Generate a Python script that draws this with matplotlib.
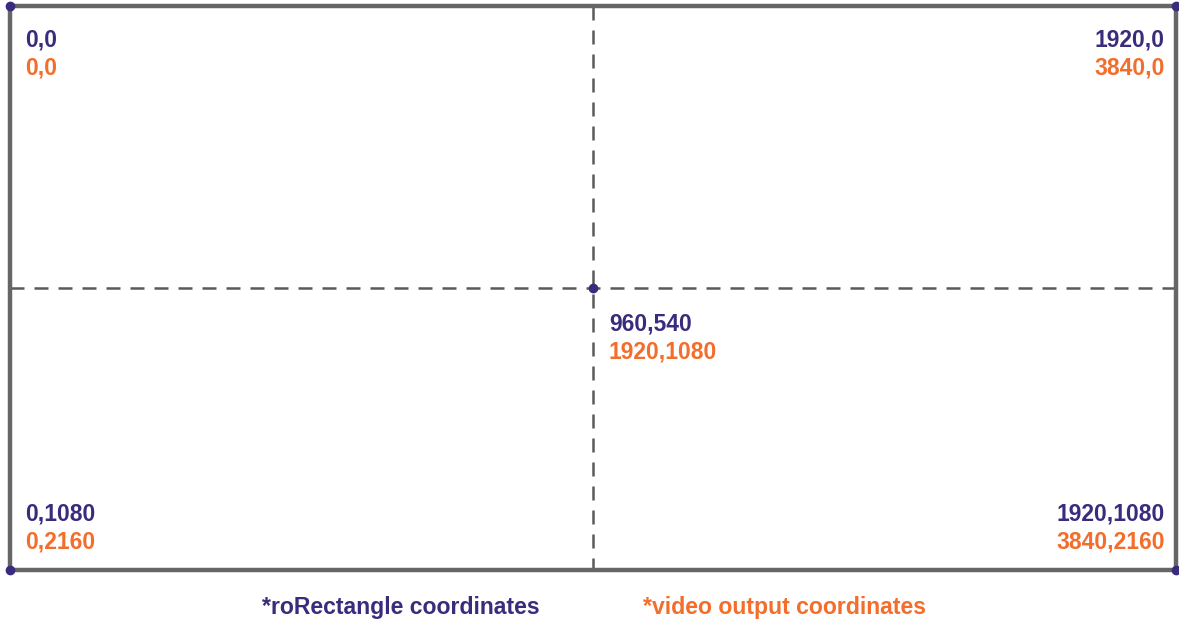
import matplotlib
matplotlib.use('Agg')
import matplotlib.pyplot as plt

# roRectangle space and the matching video output coordinates
width, height = 1920, 1080
point_x = [0, 1920, 0, 1920, 960]
point_y = [0, 0, 1080, 1080, 540]
ro_labels = ['0,0', '1920,0', '0,1080', '1920,1080', '960,540']
video_labels = ['0,0', '3840,0', '0,2160', '3840,2160', '1920,1080']
legend_labels = ['*roRectangle coordinates', '*video output coordinates']

navy = '#3a2c7c'
orange = '#f36d2b'
frame_gray = '#666666'
dash_gray = '#5a5a5a'

plt.rcParams['font.family'] = ['Liberation Sans', 'DejaVu Sans']

fig = plt.figure(figsize=(11.79, 6.21), dpi=100)
ax = fig.add_axes([10 / 1179, 51 / 621, 1166 / 1179, 564 / 621])
ax.set_xlim(0, width)
ax.set_ylim(height, 0)
ax.axis('off')

# frame
ax.plot([0, width, width, 0, 0], [0, 0, height, height, 0],
        color=frame_gray, lw=3.2, solid_joinstyle='miter', clip_on=False, zorder=2)

# dashed crosshair through the centre
ax.plot([width / 2, width / 2], [0, height], color=dash_gray, lw=1.8,
        dashes=(5.6, 4.0), clip_on=False, zorder=1)
ax.plot([0, width * 1.01], [height / 2, height / 2], color=dash_gray, lw=1.8,
        dashes=(5.6, 4.0), clip_on=False, zorder=1)

ax.plot(point_x, point_y, 'o', color=navy, ms=6, clip_on=False, zorder=3)

# label offsets in pixels (dx, dy of first line, dy of second line, align)
offsets = [
    (15, -40, -69, 'left'),
    (-11, -40, -69, 'right'),
    (15, 49, 21, 'left'),
    (-11, 49, 21, 'right'),
    (16, -43, -71, 'left'),
]

for x, y, ro, vid, (dx, dy1, dy2, ha) in zip(point_x, point_y, ro_labels,
                                             video_labels, offsets):
    ax.annotate(ro, (x, y), xytext=(dx, dy1), textcoords='offset pixels',
                ha=ha, va='baseline', color=navy, fontsize=16.5,
                fontweight='bold', annotation_clip=False)
    ax.annotate(vid, (x, y), xytext=(dx, dy2), textcoords='offset pixels',
                ha=ha, va='baseline', color=orange, fontsize=16.5,
                fontweight='bold', annotation_clip=False)

fig.text(262 / 1179, 1 - 614 / 621, legend_labels[0], color=navy,
         fontsize=16.6, fontweight='bold', ha='left', va='baseline')
fig.text(643 / 1179, 1 - 614 / 621, legend_labels[1], color=orange,
         fontsize=16.6, fontweight='bold', ha='left', va='baseline')

fig.savefig('out.png', dpi=100, facecolor='white')
